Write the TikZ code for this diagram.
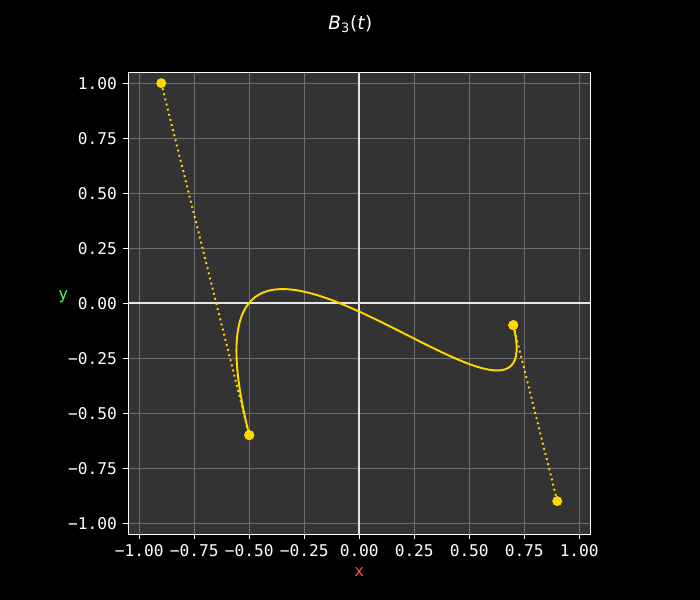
\documentclass[tikz,border=0pt]{standalone}
\usepackage{fontspec}
\setmainfont{DejaVu Sans}
\setmonofont{DejaVu Sans Mono}
\usepackage{xcolor}
\usetikzlibrary{positioning}

\definecolor{axbg}{HTML}{333333}
\definecolor{gridc}{HTML}{6E6E6E}
\definecolor{curvec}{HTML}{FFD700}
\definecolor{xlab}{HTML}{FF5050}
\definecolor{ylab}{HTML}{50FF50}

\tikzset{
  ctrlpt/.style={circle,fill=curvec,inner sep=0pt,minimum size=0.2cm},
  ticklab/.style={font=\ttfamily\fontsize{9.2}{10}\selectfont,text=white,inner sep=0pt},
  hull/.style={curvec,line width=1.1pt,dash pattern=on 1.1pt off 1.9pt},
  bezier/.style={curvec,line width=1.1pt},
}

\begin{document}
\begin{tikzpicture}[x=4.4cm,y=4.4cm]
    % page and axes background
    \fill[black] (-1.633,-1.349) rectangle (1.549,1.378);
    \useasboundingbox (-1.633,-1.349) rectangle (1.549,1.378);
    \def\lo{-1.05}  % axes limits
    \def\hi{1.05}
    \fill[axbg] (\lo,\lo) rectangle (\hi,\hi);
    % grid, ticks and tick labels
    \foreach \v/\t in {-1/{−1.00},-0.75/{−0.75},-0.5/{−0.50},-0.25/{−0.25},
                       0/{0.00},0.25/{0.25},0.5/{0.50},0.75/{0.75},1/{1.00}} {
      \draw[gridc,line width=0.5pt] (\v,\lo) -- (\v,\hi);
      \draw[gridc,line width=0.5pt] (\lo,\v) -- (\hi,\v);
      \draw[white,line width=0.6pt] (\v,\lo) -- ++(0,-0.1cm);
      \draw[white,line width=0.6pt] (\lo,\v) -- ++(-0.1cm,0);
      \node[ticklab,anchor=north] at ([yshift=-0.2cm]\v,\lo) {\t};
      \node[ticklab,anchor=east] at ([xshift=-0.22cm]\lo,\v) {\t};
    }
    % zero lines
    \draw[white!90!black,line width=1.1pt] (\lo,0) -- (\hi,0);
    \draw[white!90!black,line width=1.1pt] (0,\lo) -- (0,\hi);
    \draw[white,line width=0.6pt] (\lo,\lo) rectangle (\hi,\hi);
    % control points
    \node[ctrlpt] (p0) at (-0.9,1) {};
    \node[ctrlpt] (p1) at (-0.5,-0.6) {};
    \node[ctrlpt] (p2) at (0.7,-0.1) {};
    \node[ctrlpt] (p3) at (0.9,-0.9) {};
    \draw[hull] (p0.center) -- (p1.center);
    \draw[hull] (p2.center) -- (p3.center);
    \draw[bezier] (p1.center) .. controls (p0.center) and (p3.center) .. (p2.center);
    \node[ctrlpt] at (p1) {};
    \node[ctrlpt] at (p2) {};
    % labels
    \node[font=\fontsize{10.5}{12}\selectfont,text=white] (title) at (-0.04,1.27)
      {\textit{B}\textsubscript{3}(\textit{t})};
    \node[font=\ttfamily\fontsize{9.2}{10}\selectfont,text=xlab] (xl) at (0,-1.222) {x};
    \node[font=\ttfamily\fontsize{9.2}{10}\selectfont,text=ylab] (yl) at (-1.346,0.03) {y};
\end{tikzpicture}
\end{document}
